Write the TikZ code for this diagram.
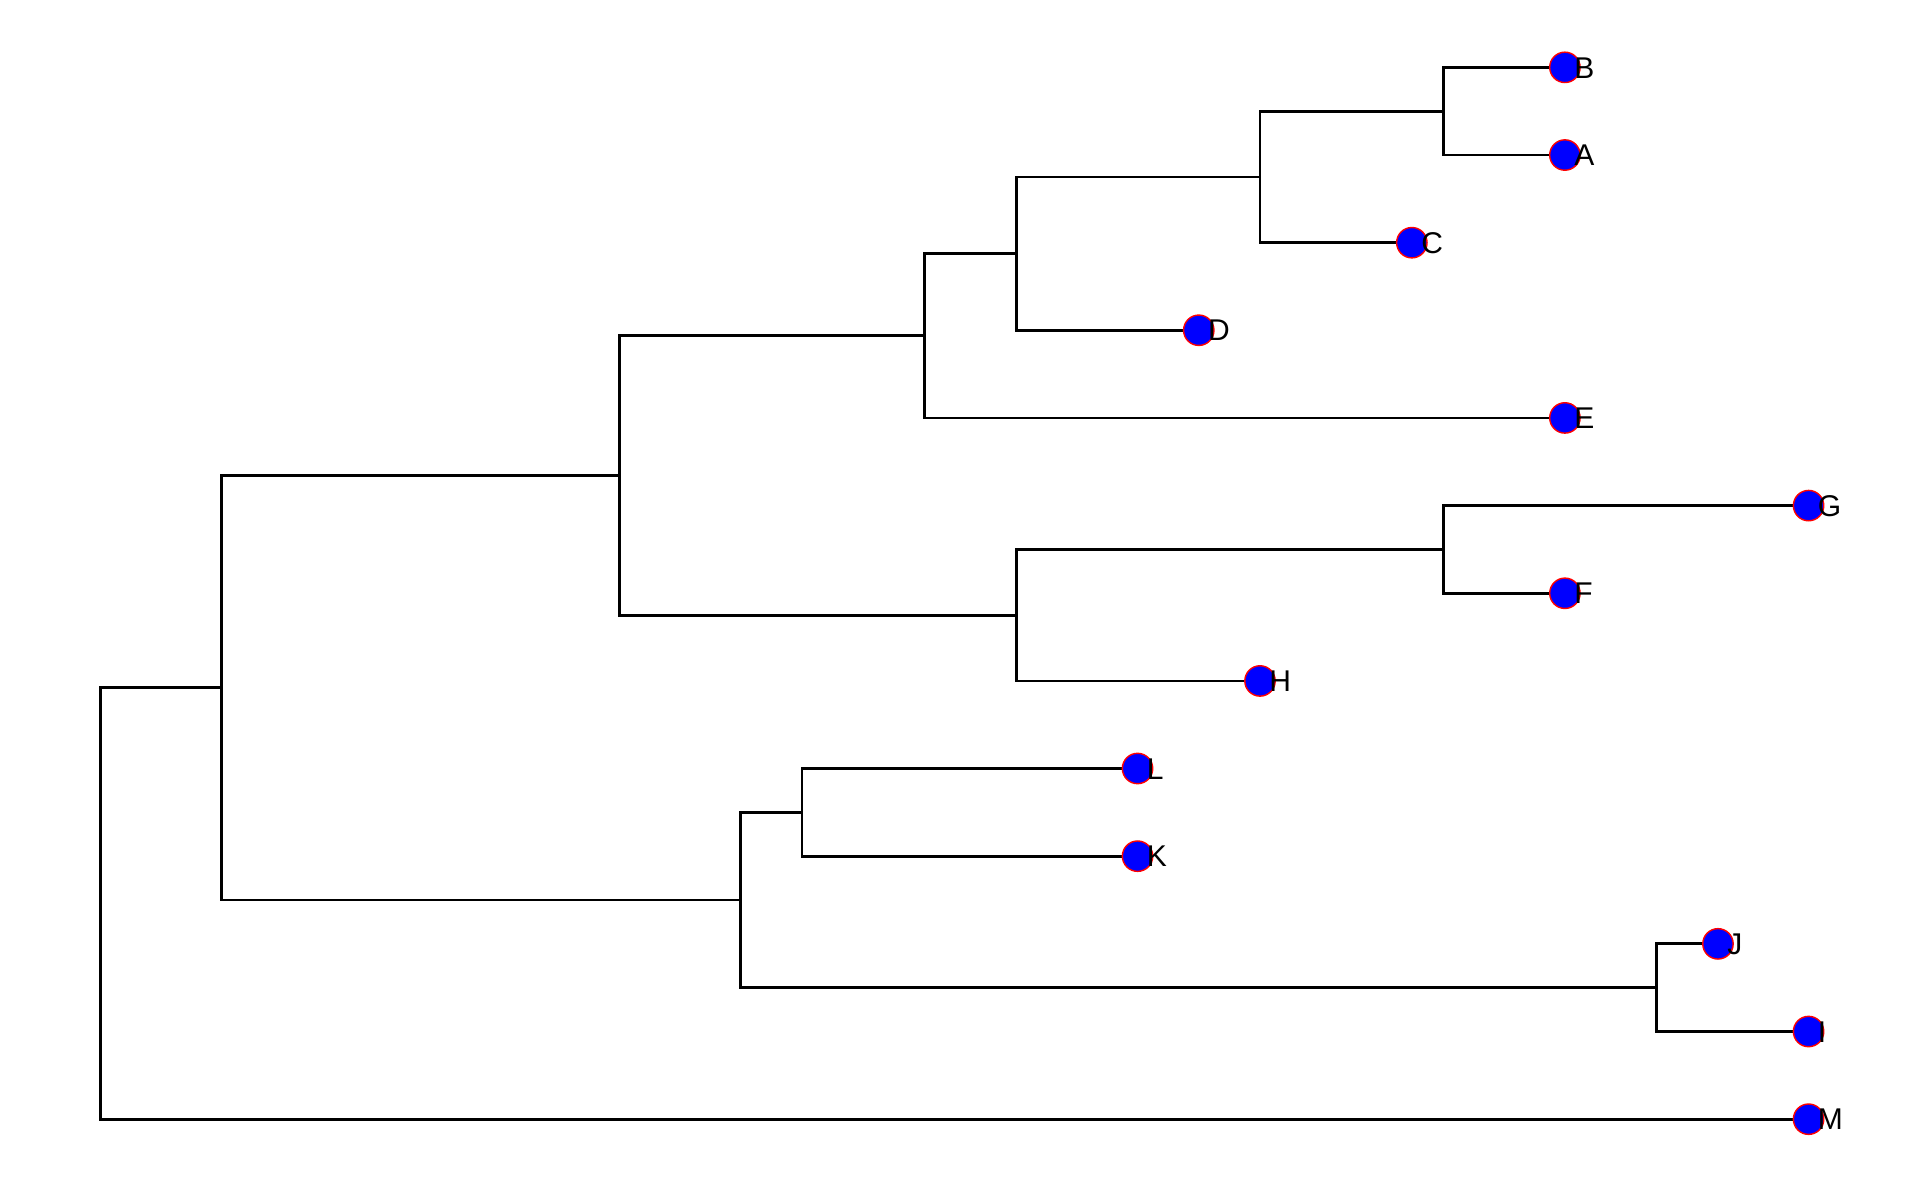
\documentclass[tikz,border=0pt]{standalone}
\usepackage{fontspec}
\setmainfont{Liberation Sans}
\begin{document}
\begin{tikzpicture}[x=0.6122pt,y=-0.6122pt,
  branch/.style={line width=1.35pt,line cap=rect},
  leaf/.style={circle,fill=blue,draw=red,line width=0.7pt,minimum size=15.2pt,inner sep=0pt},
  lbl/.style={anchor=base west,inner sep=0pt,font=\fontsize{15pt}{18pt}\selectfont,xshift=4.5pt,yshift=-5.35pt}]
\useasboundingbox (0,0) rectangle (1568,968.6);
% leaf positions
\coordinate (pB) at (1278,55);
\coordinate (pA) at (1278,126.6);
\coordinate (pC) at (1153,198.2);
\coordinate (pD) at (979,269.7);
\coordinate (pE) at (1278,341.3);
\coordinate (pG) at (1477,412.9);
\coordinate (pF) at (1278,484.5);
\coordinate (pH) at (1029,556.1);
\coordinate (pL) at (929,627.6);
\coordinate (pK) at (929,699.2);
\coordinate (pJ) at (1403,770.8);
\coordinate (pI) at (1477,842.4);
\coordinate (pM) at (1477,914);
% internal nodes
\coordinate (nBA) at (1179,90.8);
\coordinate (nBAC) at (1029,144.5);
\coordinate (nBACD) at (830,207.1);
\coordinate (nE) at (755,274.2);
\coordinate (nGF) at (1179,448.7);
\coordinate (nGFH) at (830,502.4);
\coordinate (nUp) at (506,388.3);
\coordinate (nLK) at (655,663.4);
\coordinate (nJI) at (1353,806.6);
\coordinate (nLow) at (605,735);
\coordinate (nTop) at (181,561.6);
\coordinate (nRoot) at (82,561.6);
% branches
\draw[branch] (nBA) |- (pB);
\draw[branch] (nBA) |- (pA);
\draw[branch] (nBAC) |- (nBA);
\draw[branch] (nBAC) |- (pC);
\draw[branch] (nBACD) |- (nBAC);
\draw[branch] (nBACD) |- (pD);
\draw[branch] (nE) |- (nBACD);
\draw[branch] (nE) |- (pE);
\draw[branch] (nGF) |- (pG);
\draw[branch] (nGF) |- (pF);
\draw[branch] (nGFH) |- (nGF);
\draw[branch] (nGFH) |- (pH);
\draw[branch] (nUp) |- (nE);
\draw[branch] (nUp) |- (nGFH);
\draw[branch] (nLK) |- (pL);
\draw[branch] (nLK) |- (pK);
\draw[branch] (nJI) |- (pJ);
\draw[branch] (nJI) |- (pI);
\draw[branch] (nLow) |- (nLK);
\draw[branch] (nLow) |- (nJI);
\draw[branch] (nTop) |- (nUp);
\draw[branch] (nTop) |- (nLow);
\draw[branch] (nRoot) -- (nTop);
\draw[branch] (nRoot) |- (pM);
% leaves
\foreach \n in {A,B,C,D,E,F,G,H,I,J,K,L,M}{
  \node[leaf] (\n) at (p\n) {};
}
\foreach \n in {A,B,C,D,E,F,G,H,I,J,K,L,M}{
  \node[lbl] (t\n) at (p\n) {\n};
}
\end{tikzpicture}
\end{document}
